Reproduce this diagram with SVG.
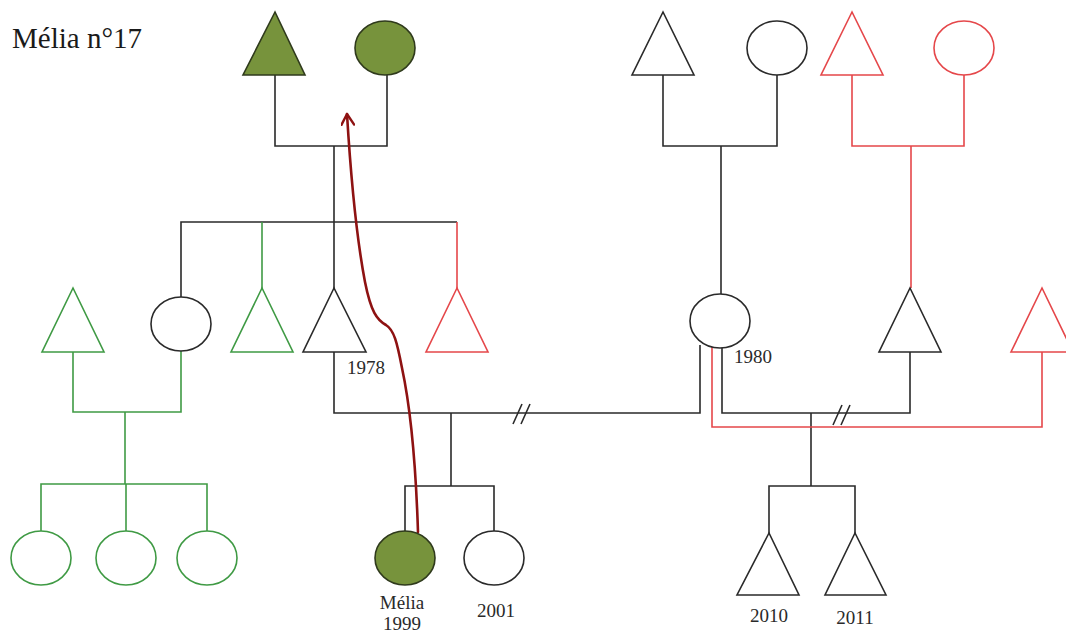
<svg xmlns="http://www.w3.org/2000/svg" width="1066" height="633" viewBox="0 0 1066 633">
  <defs>
    <style>
      .bk { fill: none; stroke: #2a2a2a; stroke-width: 1.6; }
      .gr { fill: none; stroke: #3f9a44; stroke-width: 1.6; }
      .rd { fill: none; stroke: #e5474a; stroke-width: 1.6; }
      .sym { fill: #ffffff; }
      .olive { fill: #77933c; stroke: #2f3a1c; stroke-width: 1.6; }
      .lbl { font-family: "Liberation Serif", "Times New Roman", serif; font-size: 19px; fill: #2a2a2a; }
      .title { font-family: "Liberation Serif", "Times New Roman", serif; font-size: 29px; fill: #1a1a1a; }
      .path { fill: none; stroke: #8e1212; stroke-width: 2.6; stroke-linecap: round; }
    </style>
    <marker id="head" viewBox="0 0 14 14" refX="12" refY="7" markerWidth="14" markerHeight="14" markerUnits="userSpaceOnUse" orient="auto">
      <path d="M1,0.5 L12,7 L1,13.5" fill="none" stroke="#8e1212" stroke-width="2.4" stroke-linecap="round" stroke-linejoin="round"/>
    </marker>
  </defs>

  <rect width="1066" height="633" fill="#ffffff"/>

  <text class="title" x="12" y="48">Mélia n°17</text>

  <!-- connectors -->
  <g id="connectors">
    <!-- paternal grandparents -> children -->
    <polyline class="bk" points="275,75 275,146 387,146 387,75"/>
    <line class="bk" x1="334" y1="146" x2="334" y2="288"/>
    <polyline class="bk" points="181,297 181,222 457,222"/>
    <line class="gr" x1="262" y1="222" x2="262" y2="288"/>
    <line class="rd" x1="457" y1="222" x2="457" y2="288"/>

    <!-- aunt's family -->
    <polyline class="gr" points="73,352 73,412 181,412 181,351"/>
    <line class="gr" x1="125" y1="412" x2="125" y2="484"/>
    <polyline class="gr" points="41,531 41,484 207,484 207,531"/>
    <line class="gr" x1="126" y1="484" x2="126" y2="531"/>

    <!-- maternal grandparents -->
    <polyline class="bk" points="663,75 663,146 777,146 777,75"/>
    <line class="bk" x1="721" y1="146" x2="721" y2="294"/>

    <!-- step-father's parents -->
    <polyline class="rd" points="852,75 852,146 964,146 964,75"/>
    <line class="rd" x1="911" y1="146" x2="911" y2="288"/>

    <!-- first couple (divorced) -->
    <polyline class="bk" points="334,352 334,413 700,413 700,345"/>
    <line class="bk" x1="451" y1="413" x2="451" y2="486"/>
    <polyline class="bk" points="405,531 405,486 494,486 494,531"/>
    <path class="bk" d="M513,424 L522,404 M521,424 L530,404"/>

    <!-- second couple (divorced) -->
    <polyline class="bk" points="722,347 722,413 910,413 910,352"/>
    <path class="bk" d="M833,425 L842,405 M841,425 L850,405"/>
    <line class="bk" x1="811" y1="413" x2="811" y2="486"/>
    <polyline class="bk" points="769,533 769,486 855,486 855,533"/>

    <!-- third union -->
    <polyline class="rd" points="712,347 712,427 1042,427 1042,352"/>

    <!-- transmission path -->
    <path class="path" marker-end="url(#head)" d="M418,532 C416,470 411,410 402,368 C397,342 394,330 386,325 C377,320 371,312 365,282 C357,240 351,180 347,114"/>
  </g>

  <!-- generation I -->
  <g id="gf-paternal"><polygon class="olive" points="275,12 243,75 305,75"/></g>
  <g id="gm-paternal"><ellipse class="olive" cx="385" cy="48" rx="30" ry="27"/></g>
  <g id="gf-maternal"><polygon class="bk sym" points="663,12 632,75 694,75"/></g>
  <g id="gm-maternal"><ellipse class="bk sym" cx="777" cy="48" rx="30" ry="27"/></g>
  <g id="gf-step"><polygon class="rd sym" points="852,12 821,75 883,75"/></g>
  <g id="gm-step"><ellipse class="rd sym" cx="964" cy="48" rx="30" ry="27"/></g>

  <!-- generation II -->
  <g id="uncle-in-law"><polygon class="gr sym" points="73,288 42,352 104,352"/></g>
  <g id="aunt"><ellipse class="bk sym" cx="181" cy="324" rx="30" ry="27"/></g>
  <g id="half-uncle-green"><polygon class="gr sym" points="262,288 231,352 293,352"/></g>
  <g id="father">
    <polygon class="bk sym" points="334,288 303,352 366,352"/>
    <text class="lbl" x="347" y="374">1978</text>
  </g>
  <g id="half-uncle-red"><polygon class="rd sym" points="457,288 426,352 488,352"/></g>
  <g id="mother">
    <ellipse class="bk sym" cx="720" cy="321" rx="30" ry="27"/>
    <text class="lbl" x="734" y="363">1980</text>
  </g>
  <g id="step-father"><polygon class="bk sym" points="910,288 879,352 941,352"/></g>
  <g id="partner-red"><polygon class="rd sym" points="1042,288 1011,352 1073,352"/></g>

  <!-- generation III -->
  <g id="cousin-1"><ellipse class="gr sym" cx="41" cy="558" rx="30" ry="27"/></g>
  <g id="cousin-2"><ellipse class="gr sym" cx="126" cy="558" rx="30" ry="27"/></g>
  <g id="cousin-3"><ellipse class="gr sym" cx="207" cy="558" rx="30" ry="27"/></g>
  <g id="melia">
    <ellipse class="olive" cx="405" cy="558" rx="30" ry="27"/>
    <text class="lbl" x="402" y="609" text-anchor="middle">Mélia</text>
    <text class="lbl" x="402" y="630" text-anchor="middle">1999</text>
  </g>
  <g id="sister">
    <ellipse class="bk sym" cx="494" cy="558" rx="30" ry="27"/>
    <text class="lbl" x="496" y="617" text-anchor="middle">2001</text>
  </g>
  <g id="half-brother-1">
    <polygon class="bk sym" points="769,533 737,595 799,595"/>
    <text class="lbl" x="769" y="622" text-anchor="middle">2010</text>
  </g>
  <g id="half-brother-2">
    <polygon class="bk sym" points="855,533 825,595 886,595"/>
    <text class="lbl" x="855" y="624" text-anchor="middle">2011</text>
  </g>
</svg>
